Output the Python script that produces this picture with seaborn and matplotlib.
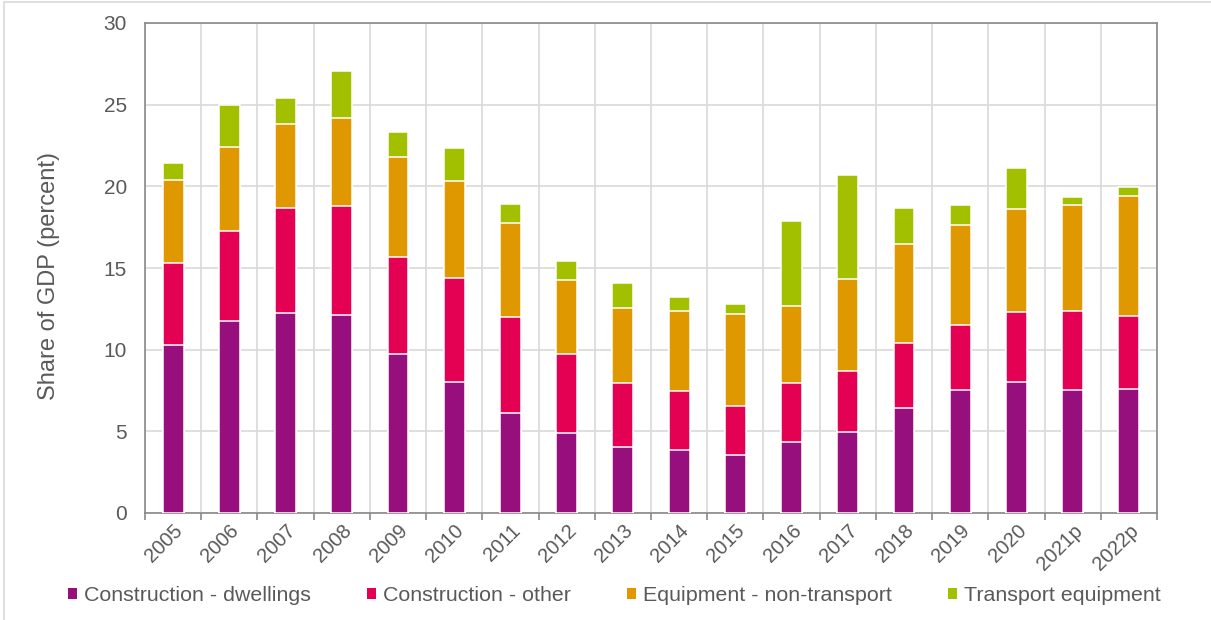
import numpy as np
import pandas as pd
import matplotlib
matplotlib.use("Agg")
import matplotlib.pyplot as plt
import matplotlib.patches as mpatches
import seaborn as sns

years = ["2005", "2006", "2007", "2008", "2009", "2010", "2011", "2012", "2013",
         "2014", "2015", "2016", "2017", "2018", "2019", "2020", "2021p", "2022p"]
dwellings = [10.27, 11.78, 12.22, 12.10, 9.71, 8.00, 6.14, 4.88, 4.02, 3.84, 3.53, 4.33,
             4.94, 6.41, 7.55, 8.04, 7.51, 7.57]
other = [5.06, 5.46, 6.43, 6.68, 5.94, 6.37, 5.86, 4.83, 3.96, 3.61, 3.02, 3.65,
         3.75, 4.00, 3.98, 4.27, 4.86, 4.49]
equipment = [5.06, 5.17, 5.15, 5.38, 6.17, 5.96, 5.76, 4.53, 4.55, 4.92, 5.63, 4.67,
             5.64, 6.04, 6.10, 6.30, 6.49, 7.33]
transport = [1.06, 2.59, 1.63, 2.90, 1.53, 2.00, 1.18, 1.17, 1.55, 0.85, 0.64, 5.23,
             6.34, 2.22, 1.23, 2.53, 0.47, 0.55]

series_names = ["Construction - dwellings", "Construction - other",
                "Equipment - non-transport", "Transport equipment"]
colors = ["#970F7D", "#E40052", "#E09800", "#A2C000"]

df = pd.DataFrame({"year": years, series_names[0]: dwellings, series_names[1]: other,
                   series_names[2]: equipment, series_names[3]: transport})
cum = df[series_names].cumsum(axis=1)

sns.set_theme(style="white")
plt.rcParams["font.family"] = ["Liberation Sans", "DejaVu Sans"]

fig = plt.figure(figsize=(12.11, 6.20), dpi=100)
ax = fig.add_axes([145/1211, 1 - 513/620, (1157-145)/1211, 490/620])

text_col = "#595959"
spine_col = "#898989"
grid_col = "#D9D9D9"

# draw stacked bars from top series down (overlay cumulative totals)
for name, col in reversed(list(zip(series_names, colors))):
    sns.barplot(x=df["year"], y=cum[name], color=col, saturation=1, width=0.372,
                edgecolor="white", linewidth=1.1, errorbar=None, ax=ax, zorder=3)

ax.set_xlim(-0.5, len(years) - 0.5)
ax.set_ylim(0, 30)
ax.set_yticks(np.arange(0, 31, 5))
ax.set_xticks(range(len(years)))
ax.set_xticks(np.arange(-0.5, len(years), 1.0), minor=True)
ax.set_xlabel("")
ax.set_ylabel("Share of GDP (percent)", fontsize=17, color=text_col)
ax.yaxis.set_label_coords(-0.084, 0.483)

ax.set_axisbelow(True)
ax.grid(True, axis="y", which="major", color=grid_col, linewidth=1.2)
ax.grid(True, axis="x", which="minor", color=grid_col, linewidth=1.2)
ax.grid(False, axis="x", which="major")

for sp in ax.spines.values():
    sp.set_visible(True)
    sp.set_color(spine_col)
    sp.set_linewidth(1.2)

ax.tick_params(axis="y", which="both", length=0, pad=13, labelsize=15, labelcolor=text_col)
ax.tick_params(axis="x", which="major", length=0, pad=6, labelsize=14.5, labelcolor=text_col)
ax.tick_params(axis="x", which="minor", length=5, width=1.2, color=spine_col, direction="out",
               bottom=True, top=False)
for lbl in ax.get_xticklabels():
    lbl.set_rotation(45)
    lbl.set_ha("right")
    lbl.set_va("top")
    lbl.set_rotation_mode("anchor")

handles = [mpatches.Patch(facecolor=c, edgecolor="none", label=n)
           for n, c in zip(series_names, colors)]
leg = fig.legend(handles=handles, loc="center", bbox_to_anchor=(0.5074, 0.040), ncol=4,
                 frameon=False, fontsize=15.4, handlelength=0.42, handleheight=0.42,
                 handletextpad=0.35, columnspacing=2.6)
for t in leg.get_texts():
    t.set_color(text_col)

# light outer frame
fig.patches.append(mpatches.Rectangle((4/1211, -0.05), 2, 1 - 1.5/620 + 0.05,
                                      transform=fig.transFigure, fill=False,
                                      edgecolor="#D9D9D9", linewidth=1.2))

fig.savefig("out.png", dpi=100)
